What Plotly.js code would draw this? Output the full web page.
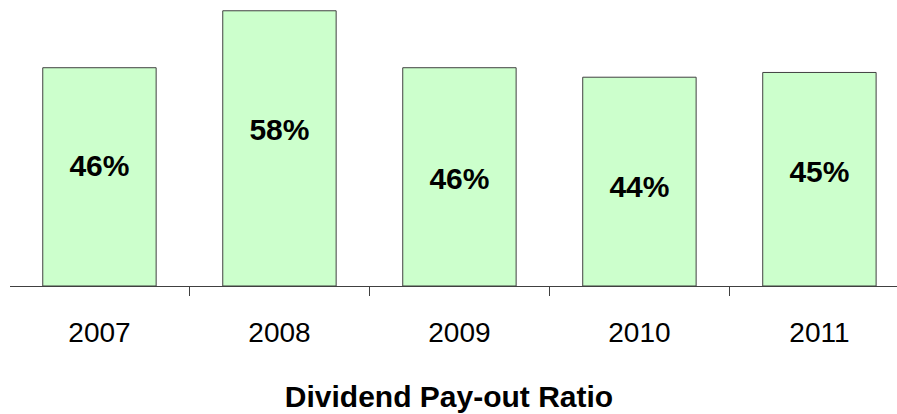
<!DOCTYPE html>
<html>
<head>
<meta charset="utf-8">
<script src="https://cdn.plot.ly/plotly-3.0.1.min.js"></script>
<style>html,body{margin:0;padding:0;background:#fff;overflow:hidden}</style>
</head>
<body>
<div id="chart" style="width:897px;height:414px"></div>
<script>
// Data
const years = ["2007", "2008", "2009", "2010", "2011"];
const payoutRatio = [46, 58, 46, 44, 45];            // percent
const payoutLabels = ["46%", "58%", "46%", "44%", "45%"];

// Label placement within each bar (fraction of bar height) - layout only
const labelFrac = [0.539, 0.559, 0.478, 0.464, 0.522];

const FONT = "Liberation Sans, Arial, sans-serif";

const bars = {
  type: "bar",
  x: years,
  y: payoutRatio,
  marker: { color: "#ccffcc", line: { color: "#404040", width: 1 } },
  hoverinfo: "none"
};

const labels = {
  type: "scatter",
  mode: "text",
  x: years,
  y: payoutRatio.map((v, i) => v * labelFrac[i]),
  text: payoutLabels.map(t => "<b>" + t + "</b>"),
  textposition: "middle center",
  textfont: { family: FONT, size: 30, color: "#000000" },
  hoverinfo: "none",
  cliponaxis: false
};

const layout = {
  width: 897,
  height: 414,
  margin: { l: 10, r: 0, t: 0, b: 128, pad: 0 },
  paper_bgcolor: "#ffffff",
  plot_bgcolor: "#ffffff",
  showlegend: false,
  bargap: 0.37,
  title: {
    text: "<b>Dividend Pay-out Ratio</b>",
    font: { family: FONT, size: 30, color: "#000" },
    xref: "container", yref: "container",
    x: 449 / 897, y: 1 - 396 / 414,
    xanchor: "center", yanchor: "middle"
  },
  xaxis: {
    type: "category",
    range: [-0.497, 4.431],
    tickson: "boundaries",
    ticks: "outside",
    ticklen: 9,
    tickwidth: 1,
    tickcolor: "#404040",
    showline: true,
    linecolor: "#404040",
    linewidth: 1,
    showgrid: false,
    zeroline: false,
    ticklabelstandoff: 21,
    tickfont: { family: FONT, size: 28, color: "#000" },
    fixedrange: true
  },
  yaxis: {
    range: [0, 60.27],
    visible: false,
    showgrid: false,
    zeroline: false,
    fixedrange: true
  }
};

Plotly.newPlot("chart", [bars, labels], layout, { staticPlot: true, displayModeBar: false });
</script>
</body>
</html>
